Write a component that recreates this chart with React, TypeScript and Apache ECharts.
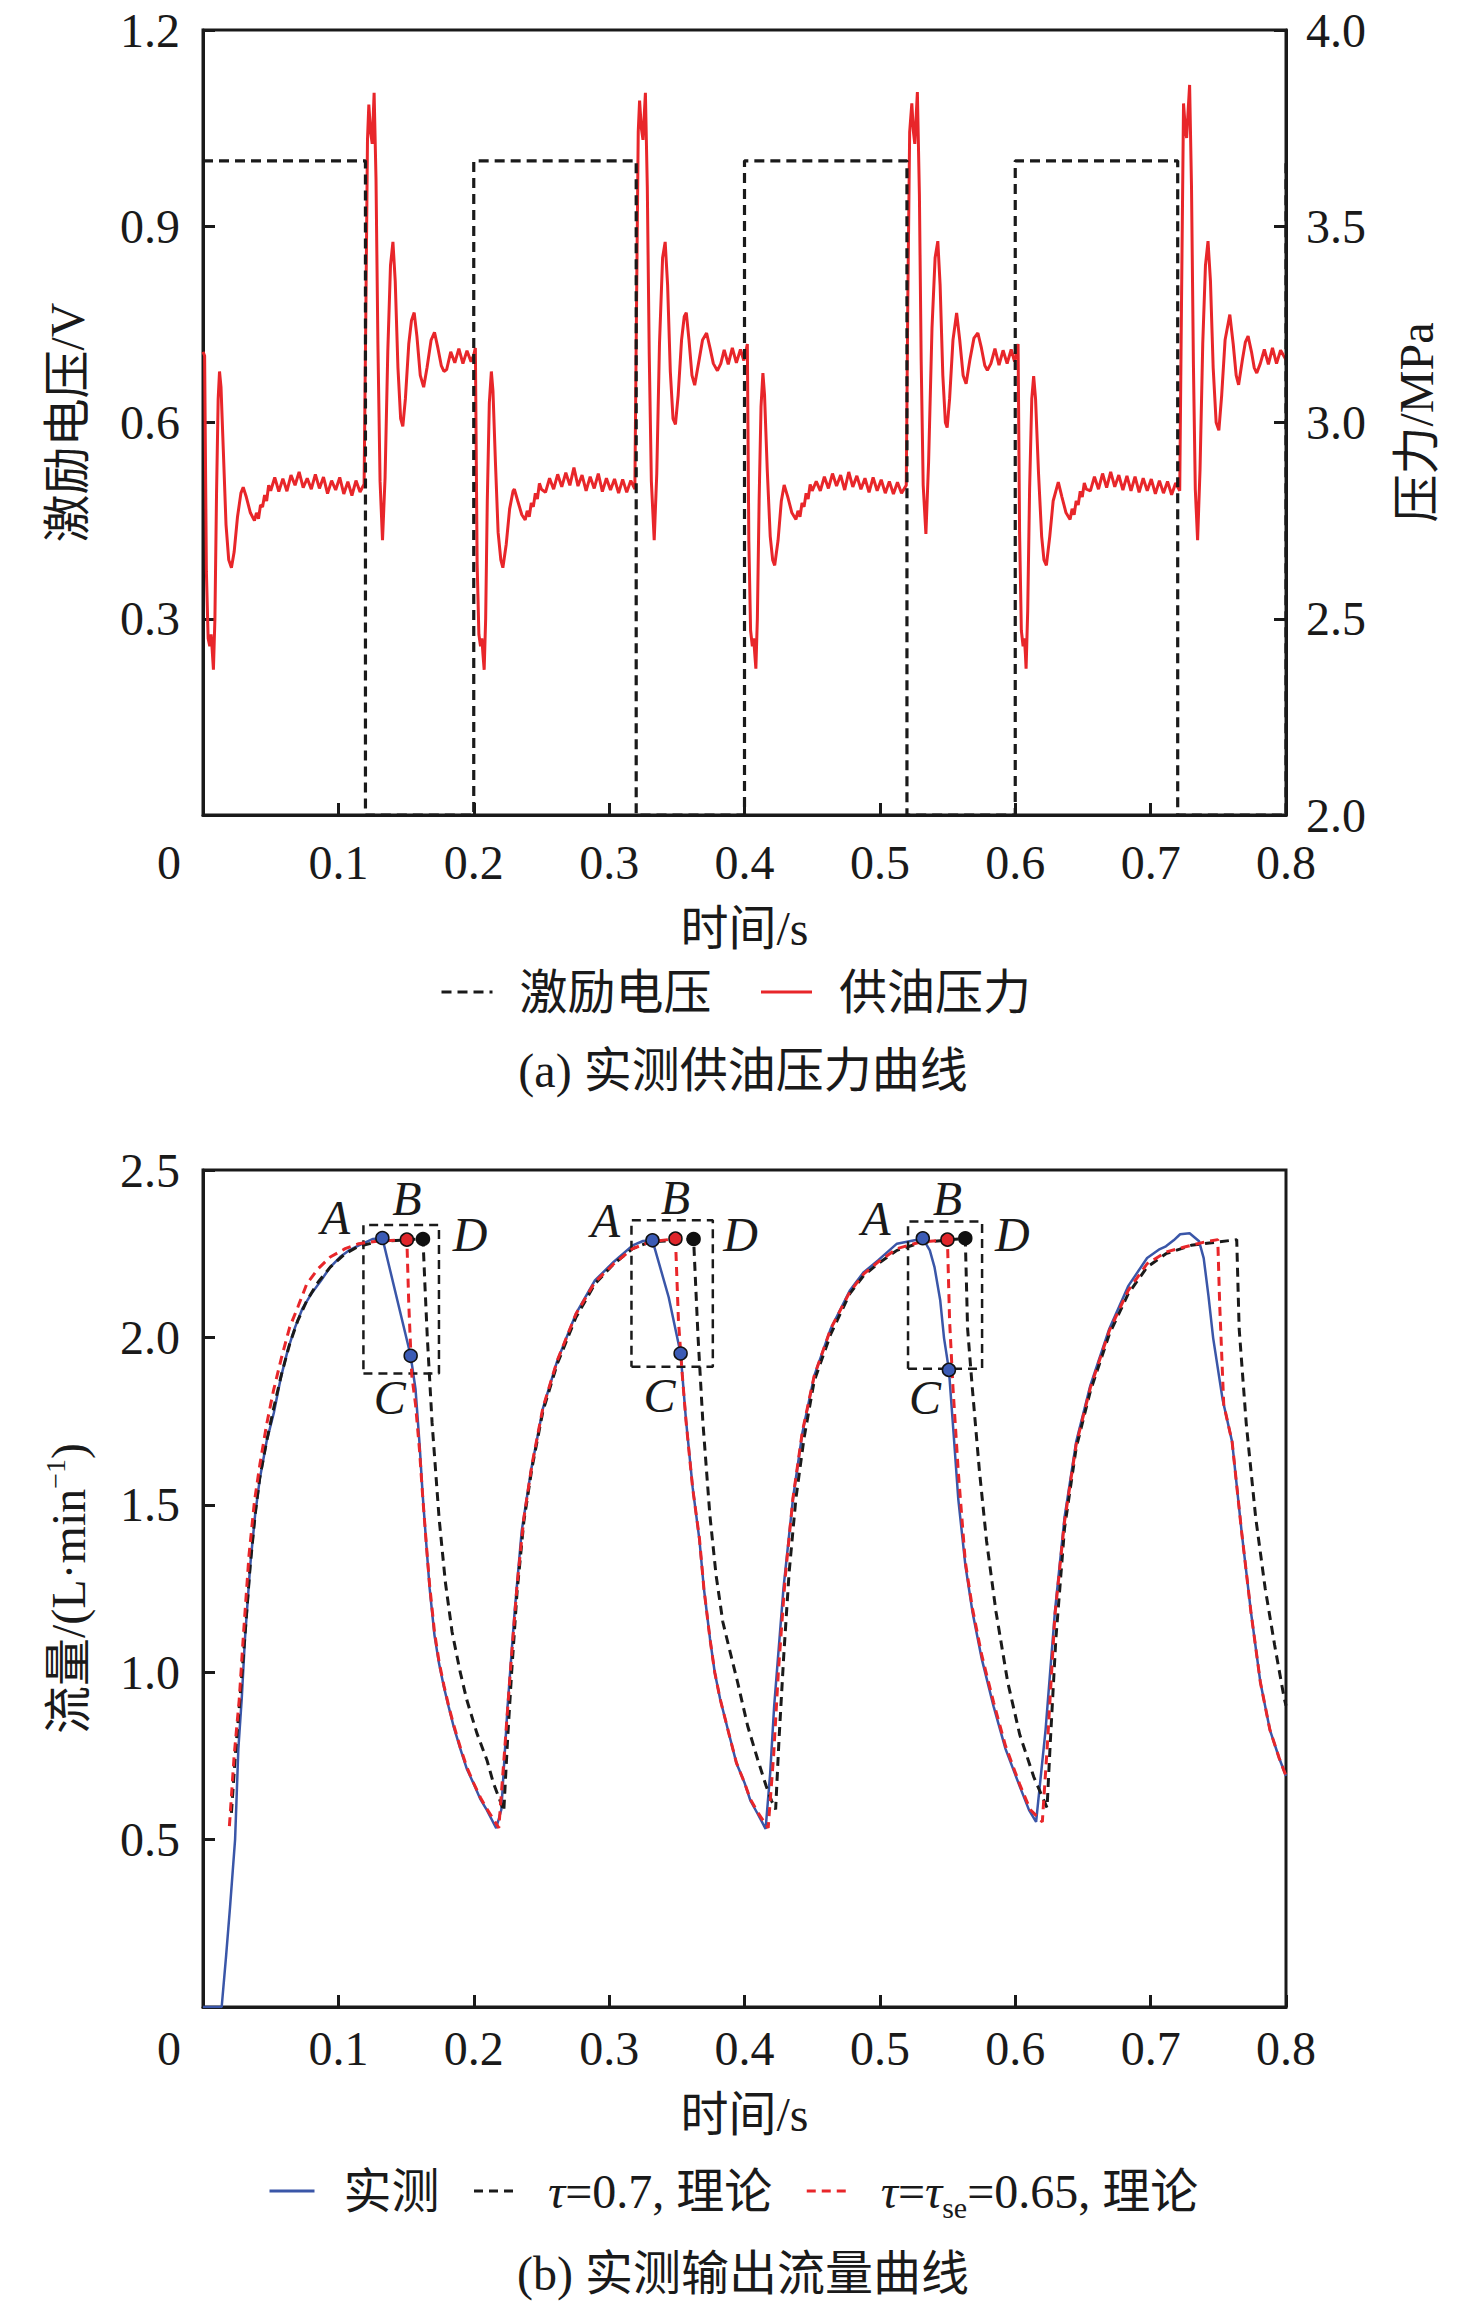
import React, { useEffect, useRef } from "react";
import * as echarts from "echarts";

const FONT = "'Liberation Serif', 'Noto Sans CJK SC', serif";
const INK = "#1a1a1a";
const RED = "#e8262a";
const BLUE = "#3a56a8";

const topLegendNames = ["激励电压", "供油压力"];
const bottomLegendNames = ["实测", "τ=0.7, 理论", "τ=τse=0.65, 理论"];
const captionA = "(a) 实测供油压力曲线";
const captionB = "(b) 实测输出流量曲线";
const originLabel = "0";

// excitation voltage (V), left axis of chart (a)
const voltage = [
  [0, 1], [0.12, 1], [0.12, 0], [0.2, 0], [0.2, 1], [0.32, 1], [0.32, 0], [0.4, 0], [0.4, 1],
  [0.52, 1], [0.52, 0], [0.6, 0], [0.6, 1], [0.72, 1], [0.72, 0], [0.8, 0], [0.8, 1],
];

// supply pressure (MPa), right axis of chart (a)
const pressure = [
  [0.000, 3.18], [0.0012, 3.17], [0.0025, 2.62], [0.0038, 2.45], [0.0050, 2.43], [0.0060, 2.46], [0.0068, 2.42], [0.0077, 2.37], [0.0088, 2.50], [0.0100, 2.82], [0.0112, 3.06], [0.0122, 3.13], [0.0133, 3.09], [0.0150, 2.93], [0.0170, 2.74], [0.0190, 2.65], [0.0210, 2.63], [0.0230, 2.67], [0.0255, 2.76], [0.0280, 2.82], [0.0297, 2.835], [0.0320, 2.81], [0.0350, 2.77], [0.0380, 2.75], [0.0395, 2.77], [0.0410, 2.755], [0.0425, 2.79], [0.0440, 2.785], [0.0455, 2.815], [0.0470, 2.80], [0.0485, 2.84], [0.0500, 2.826],
  [0.0530, 2.86], [0.0560, 2.824], [0.0590, 2.857], [0.0620, 2.825], [0.0650, 2.866], [0.0680, 2.84], [0.0710, 2.874], [0.0740, 2.834], [0.0770, 2.858], [0.0800, 2.83], [0.0830, 2.868], [0.0860, 2.832], [0.0890, 2.861], [0.0920, 2.819], [0.0950, 2.852], [0.0980, 2.828], [0.1010, 2.86], [0.1040, 2.818], [0.1070, 2.849], [0.1100, 2.814], [0.1130, 2.852], [0.1160, 2.823], [0.1190, 2.843],
  [0.1202, 3.25], [0.1215, 3.72], [0.1225, 3.81], [0.1238, 3.74], [0.1250, 3.71], [0.1264, 3.84], [0.1278, 3.62], [0.1292, 3.20], [0.1308, 2.85], [0.1326, 2.70], [0.1345, 2.86], [0.1365, 3.18], [0.1385, 3.40], [0.1403, 3.46], [0.1420, 3.36], [0.1440, 3.14], [0.1460, 3.01], [0.1476, 2.99], [0.1495, 3.06], [0.1520, 3.20], [0.1540, 3.26], [0.1560, 3.28], [0.1580, 3.22], [0.1605, 3.12], [0.1630, 3.09], [0.1655, 3.14], [0.1685, 3.21], [0.1710, 3.23], [0.1735, 3.19], [0.1760, 3.145], [0.1780, 3.13], [0.1800, 3.135], [0.1830, 3.18], [0.1860, 3.152], [0.1890, 3.188], [0.1920, 3.15], [0.1950, 3.183], [0.1980, 3.155], [0.2000, 3.172],
  [0.2012, 3.19], [0.2025, 2.64], [0.2038, 2.46], [0.2050, 2.43], [0.2060, 2.45], [0.2068, 2.41], [0.2077, 2.37], [0.2088, 2.50], [0.2100, 2.80], [0.2115, 3.05], [0.2130, 3.13], [0.2142, 3.08], [0.2160, 2.90], [0.2180, 2.72], [0.2200, 2.65], [0.2215, 2.63], [0.2240, 2.69], [0.2265, 2.78], [0.2290, 2.825], [0.2300, 2.83], [0.2325, 2.80], [0.2355, 2.765], [0.2380, 2.752], [0.2395, 2.775], [0.2410, 2.76], [0.2425, 2.795], [0.2440, 2.785], [0.2455, 2.82], [0.2470, 2.805], [0.2485, 2.845], [0.2500, 2.83],
  [0.2530, 2.822], [0.2560, 2.858], [0.2590, 2.83], [0.2620, 2.868], [0.2650, 2.836], [0.2680, 2.872], [0.2710, 2.84], [0.2740, 2.885], [0.2770, 2.838], [0.2800, 2.866], [0.2830, 2.826], [0.2860, 2.862], [0.2890, 2.832], [0.2920, 2.87], [0.2950, 2.824], [0.2980, 2.858], [0.3010, 2.828], [0.3040, 2.856], [0.3070, 2.82], [0.3100, 2.855], [0.3130, 2.822], [0.3160, 2.852], [0.3190, 2.83],
  [0.3202, 3.28], [0.3215, 3.74], [0.3225, 3.82], [0.3238, 3.75], [0.3250, 3.72], [0.3268, 3.84], [0.3282, 3.60], [0.3296, 3.18], [0.3312, 2.85], [0.3333, 2.70], [0.3352, 2.87], [0.3372, 3.20], [0.3395, 3.42], [0.3414, 3.46], [0.3432, 3.35], [0.3452, 3.13], [0.3472, 3.01], [0.3490, 2.995], [0.3510, 3.07], [0.3535, 3.21], [0.3555, 3.27], [0.3570, 3.28], [0.3590, 3.21], [0.3612, 3.12], [0.3632, 3.095], [0.3660, 3.15], [0.3690, 3.21], [0.3720, 3.228], [0.3745, 3.19], [0.3770, 3.15], [0.3800, 3.132], [0.3825, 3.15], [0.3850, 3.185], [0.3880, 3.148], [0.3910, 3.19], [0.3940, 3.152], [0.3970, 3.186], [0.3995, 3.158],
  [0.4010, 3.18], [0.4021, 3.20], [0.4032, 2.70], [0.4045, 2.47], [0.4058, 2.43], [0.4068, 2.45], [0.4076, 2.41], [0.4084, 2.373], [0.4095, 2.50], [0.4108, 2.80], [0.4122, 3.04], [0.4136, 3.126], [0.4148, 3.07], [0.4168, 2.88], [0.4190, 2.71], [0.4208, 2.65], [0.4223, 2.636], [0.4248, 2.70], [0.4272, 2.80], [0.4293, 2.841], [0.4320, 2.81], [0.4350, 2.77], [0.4380, 2.753], [0.4395, 2.775], [0.4410, 2.76], [0.4425, 2.795], [0.4440, 2.785], [0.4455, 2.82], [0.4470, 2.805], [0.4485, 2.842], [0.4500, 2.826],
  [0.4530, 2.85], [0.4560, 2.826], [0.4590, 2.862], [0.4620, 2.832], [0.4650, 2.87], [0.4680, 2.838], [0.4710, 2.866], [0.4740, 2.828], [0.4770, 2.874], [0.4800, 2.836], [0.4830, 2.864], [0.4860, 2.83], [0.4890, 2.858], [0.4920, 2.822], [0.4950, 2.86], [0.4980, 2.826], [0.5010, 2.854], [0.5040, 2.82], [0.5070, 2.85], [0.5100, 2.818], [0.5130, 2.848], [0.5160, 2.82], [0.5195, 2.84],
  [0.5206, 3.30], [0.5220, 3.74], [0.5236, 3.813], [0.5248, 3.74], [0.5258, 3.71], [0.5277, 3.842], [0.5292, 3.58], [0.5305, 3.16], [0.5320, 2.84], [0.5340, 2.716], [0.5360, 2.90], [0.5385, 3.24], [0.5408, 3.42], [0.5428, 3.462], [0.5445, 3.35], [0.5465, 3.12], [0.5484, 3.00], [0.5497, 2.987], [0.5515, 3.06], [0.5540, 3.21], [0.5567, 3.279], [0.5590, 3.21], [0.5615, 3.12], [0.5637, 3.099], [0.5665, 3.16], [0.5695, 3.215], [0.5724, 3.228], [0.5750, 3.19], [0.5775, 3.145], [0.5794, 3.133], [0.5820, 3.15], [0.5850, 3.188], [0.5880, 3.146], [0.5910, 3.184], [0.5940, 3.15], [0.5970, 3.186], [0.5995, 3.155],
  [0.6010, 3.18], [0.6021, 3.20], [0.6032, 2.72], [0.6045, 2.47], [0.6058, 2.43], [0.6068, 2.45], [0.6075, 2.41], [0.6080, 2.373], [0.6092, 2.52], [0.6106, 2.83], [0.6122, 3.06], [0.6136, 3.118], [0.6150, 3.06], [0.6172, 2.87], [0.6195, 2.71], [0.6212, 2.65], [0.6230, 2.636], [0.6255, 2.71], [0.6280, 2.80], [0.6318, 2.848], [0.6345, 2.81], [0.6375, 2.77], [0.6405, 2.753], [0.6420, 2.78], [0.6435, 2.765], [0.6450, 2.80], [0.6465, 2.79], [0.6480, 2.825], [0.6495, 2.81], [0.6510, 2.846], [0.6525, 2.83],
  [0.6555, 2.826], [0.6585, 2.862], [0.6615, 2.83], [0.6645, 2.87], [0.6675, 2.834], [0.6705, 2.874], [0.6735, 2.836], [0.6765, 2.866], [0.6795, 2.828], [0.6825, 2.864], [0.6855, 2.826], [0.6885, 2.862], [0.6915, 2.822], [0.6945, 2.858], [0.6975, 2.826], [0.7005, 2.856], [0.7035, 2.818], [0.7065, 2.852], [0.7095, 2.82], [0.7125, 2.85], [0.7155, 2.816], [0.7185, 2.846], [0.7215, 2.826],
  [0.7228, 3.30], [0.7243, 3.813], [0.7256, 3.75], [0.7266, 3.725], [0.7278, 3.80], [0.7288, 3.86], [0.7302, 3.60], [0.7316, 3.15], [0.7330, 2.83], [0.7347, 2.70], [0.7365, 2.88], [0.7385, 3.20], [0.7405, 3.40], [0.7424, 3.462], [0.7442, 3.36], [0.7462, 3.14], [0.7484, 3.00], [0.7504, 2.98], [0.7525, 3.07], [0.7550, 3.21], [0.7585, 3.275], [0.7610, 3.20], [0.7632, 3.12], [0.7650, 3.096], [0.7678, 3.16], [0.7700, 3.205], [0.7720, 3.22], [0.7745, 3.18], [0.7765, 3.14], [0.7784, 3.126], [0.7810, 3.15], [0.7840, 3.186], [0.7870, 3.148], [0.7900, 3.19], [0.7930, 3.15], [0.7960, 3.184], [0.8000, 3.16],
];

// measured output flow (L/min), chart (b)
const measuredFlow = [
  [0, 0], [0.0138, 0], [0.0170, 0.15], [0.0200, 0.30], [0.0237, 0.50], [0.0261, 0.77], [0.0286, 0.92], [0.0310, 1.10], [0.0349, 1.32], [0.0385, 1.47], [0.0419, 1.576], [0.0470, 1.69], [0.0523, 1.774], [0.0575, 1.88], [0.0628, 1.965], [0.0680, 2.03], [0.0733, 2.085], [0.0800, 2.13], [0.0872, 2.17], [0.0940, 2.21], [0.1012, 2.24], [0.1080, 2.26], [0.1151, 2.275], [0.1256, 2.294], [0.1325, 2.297],
  [0.1534, 1.945], [0.1570, 1.845], [0.1600, 1.68], [0.1622, 1.534], [0.1650, 1.38], [0.1674, 1.251], [0.1710, 1.11], [0.1744, 1.025], [0.1780, 0.955], [0.1814, 0.898], [0.1850, 0.84], [0.1901, 0.771], [0.1950, 0.71], [0.1998, 0.668], [0.2050, 0.62], [0.2097, 0.588], [0.2166, 0.534],
  [0.2204, 0.59], [0.2250, 0.898], [0.2302, 1.181], [0.2354, 1.421], [0.2424, 1.605], [0.2511, 1.788], [0.2616, 1.929], [0.2755, 2.071], [0.2895, 2.17], [0.3035, 2.226], [0.3174, 2.275], [0.3250, 2.288], [0.3320, 2.290],
  [0.3440, 2.12], [0.3528, 1.952], [0.3568, 1.752], [0.3617, 1.552], [0.3667, 1.395], [0.3700, 1.25], [0.3745, 1.10], [0.3780, 1.00], [0.3820, 0.92], [0.3870, 0.84], [0.3940, 0.729], [0.4000, 0.67], [0.4044, 0.616], [0.4100, 0.575], [0.4156, 0.532],
  [0.4190, 0.70], [0.4219, 0.898], [0.4288, 1.251], [0.4358, 1.518], [0.4428, 1.716], [0.4515, 1.885], [0.4637, 2.026], [0.4777, 2.139], [0.4881, 2.195], [0.4986, 2.23], [0.5126, 2.28], [0.5265, 2.291], [0.5317, 2.296],
  [0.5369, 2.26], [0.5404, 2.209], [0.5446, 2.11], [0.5474, 1.998], [0.5510, 1.903], [0.5544, 1.716], [0.5579, 1.518], [0.5631, 1.321], [0.5684, 1.18], [0.5753, 1.039], [0.5840, 0.898], [0.5928, 0.771], [0.6033, 0.659], [0.6102, 0.588], [0.6154, 0.553],
  [0.6224, 0.828], [0.6293, 1.18], [0.6364, 1.462], [0.6450, 1.688], [0.6555, 1.857], [0.6695, 2.026], [0.6834, 2.153], [0.6974, 2.237], [0.7060, 2.262], [0.7113, 2.272], [0.7170, 2.29], [0.7218, 2.308], [0.7288, 2.311], [0.7358, 2.287], [0.7392, 2.237], [0.7427, 2.125], [0.7462, 1.998], [0.7532, 1.814], [0.7602, 1.688], [0.7672, 1.42], [0.7741, 1.18], [0.7811, 0.969], [0.7881, 0.828], [0.7950, 0.743], [0.8000, 0.69],
];

// theory, tau = 0.7
const theoryTau070 = [
  [0.0210, 0.58], [0.0240, 0.76], [0.0275, 0.93], [0.0310, 1.11], [0.0349, 1.32], [0.0385, 1.47], [0.0419, 1.58], [0.0470, 1.69], [0.0523, 1.79], [0.0580, 1.89], [0.0640, 1.98], [0.0700, 2.05], [0.0767, 2.11], [0.0850, 2.165], [0.0940, 2.21], [0.1050, 2.25], [0.1150, 2.272], [0.1300, 2.287], [0.1625, 2.294],
  [0.1640, 2.15], [0.1657, 2.00], [0.1692, 1.746], [0.1744, 1.46], [0.1790, 1.27], [0.1840, 1.12], [0.1900, 1.00], [0.1949, 0.917], [0.2023, 0.818], [0.2097, 0.738], [0.2146, 0.668], [0.2200, 0.61], [0.2222, 0.585],
  [0.2250, 0.80], [0.2280, 1.00], [0.2320, 1.24], [0.2370, 1.45], [0.2430, 1.61], [0.2511, 1.78], [0.2616, 1.92], [0.2755, 2.06], [0.2895, 2.16], [0.3035, 2.22], [0.3174, 2.265], [0.3300, 2.285], [0.3624, 2.294],
  [0.3640, 2.15], [0.3657, 2.00], [0.3692, 1.75], [0.3744, 1.47], [0.3790, 1.29], [0.3840, 1.15], [0.3900, 1.05], [0.3949, 0.97], [0.4023, 0.84], [0.4097, 0.74], [0.4160, 0.66], [0.4200, 0.616], [0.4230, 0.59],
  [0.4255, 0.80], [0.4290, 1.05], [0.4330, 1.30], [0.4380, 1.52], [0.4440, 1.70], [0.4515, 1.87], [0.4637, 2.01], [0.4777, 2.13], [0.4881, 2.185], [0.4986, 2.22], [0.5126, 2.26], [0.5300, 2.283], [0.5631, 2.296],
  [0.5648, 2.026], [0.5684, 1.843], [0.5735, 1.603], [0.5788, 1.392], [0.5858, 1.18], [0.5945, 0.969], [0.6033, 0.814], [0.6137, 0.687], [0.6235, 0.595],
  [0.6260, 0.80], [0.6300, 1.10], [0.6364, 1.43], [0.6450, 1.67], [0.6555, 1.84], [0.6695, 2.01], [0.6834, 2.13], [0.6974, 2.21], [0.7113, 2.25], [0.7300, 2.275], [0.7636, 2.292],
  [0.7654, 2.026], [0.7706, 1.744], [0.7776, 1.462], [0.7846, 1.251], [0.7916, 1.081], [0.7985, 0.926], [0.8000, 0.90],
];

// theory, tau = tau_se = 0.65
const theoryTau065 = [
  [0.0195, 0.54], [0.0230, 0.75], [0.0268, 0.92], [0.0300, 1.12], [0.0340, 1.35], [0.0380, 1.51], [0.0420, 1.62], [0.0470, 1.74], [0.0520, 1.84], [0.0580, 1.94], [0.0640, 2.03], [0.0700, 2.09], [0.0767, 2.16], [0.0850, 2.205], [0.0940, 2.24], [0.1050, 2.265], [0.1150, 2.28], [0.1300, 2.288], [0.1506, 2.292],
  [0.1520, 2.10], [0.1542, 1.887], [0.1570, 1.80], [0.1600, 1.66], [0.1622, 1.53], [0.1650, 1.38], [0.1674, 1.26], [0.1710, 1.12], [0.1744, 1.03], [0.1780, 0.96], [0.1814, 0.90], [0.1850, 0.845], [0.1901, 0.775], [0.1950, 0.715], [0.2000, 0.668], [0.2050, 0.625], [0.2100, 0.59], [0.2185, 0.535],
  [0.2225, 0.75], [0.2270, 1.00], [0.2320, 1.26], [0.2370, 1.46], [0.2430, 1.62], [0.2511, 1.79], [0.2616, 1.93], [0.2755, 2.07], [0.2895, 2.165], [0.3035, 2.22], [0.3174, 2.265], [0.3300, 2.285], [0.3490, 2.295],
  [0.3512, 2.05], [0.3540, 1.89], [0.3568, 1.75], [0.3617, 1.55], [0.3667, 1.40], [0.3700, 1.25], [0.3745, 1.10], [0.3780, 1.00], [0.3820, 0.92], [0.3870, 0.84], [0.3940, 0.73], [0.4000, 0.67], [0.4044, 0.62], [0.4100, 0.58], [0.4175, 0.535],
  [0.4215, 0.75], [0.4250, 1.00], [0.4300, 1.28], [0.4358, 1.52], [0.4428, 1.72], [0.4515, 1.885], [0.4637, 2.026], [0.4777, 2.135], [0.4881, 2.19], [0.4986, 2.225], [0.5126, 2.265], [0.5300, 2.285], [0.5499, 2.292],
  [0.5515, 2.05], [0.5540, 1.85], [0.5579, 1.60], [0.5631, 1.33], [0.5684, 1.19], [0.5753, 1.05], [0.5840, 0.91], [0.5928, 0.78], [0.6033, 0.665], [0.6110, 0.59], [0.6200, 0.553],
  [0.6240, 0.80], [0.6293, 1.17], [0.6364, 1.45], [0.6450, 1.68], [0.6555, 1.85], [0.6695, 2.02], [0.6834, 2.14], [0.6974, 2.22], [0.7113, 2.255], [0.7250, 2.27], [0.7400, 2.285], [0.7496, 2.292],
  [0.7510, 2.10], [0.7540, 1.80], [0.7602, 1.688], [0.7672, 1.42], [0.7741, 1.18], [0.7811, 0.969], [0.7881, 0.828], [0.7950, 0.743], [0.8000, 0.69],
];

// marked points A, B, C, D in the first three cycles
const pointA = [[0.1325, 2.297], [0.332, 2.290], [0.5317, 2.296]];
const pointB = [[0.1506, 2.292], [0.349, 2.295], [0.5499, 2.292]];
const pointC = [[0.1534, 1.945], [0.3528, 1.952], [0.5510, 1.903]];
const pointD = [[0.1625, 2.294], [0.3624, 2.294], [0.5631, 2.296]];

// dashed boxes around the points: time range and flow range
const boxT = [[0.1185, 0.1743], [0.3165, 0.3766], [0.5208, 0.5755]];
const boxQ = [[1.892, 2.336], [1.912, 2.350], [1.906, 2.346]];

const legendRich: Record<string, string> = {
  "激励电压": "{n|激励电压}",
  "供油压力": "{n|供油压力}",
  "实测": "{n|实测}",
  "τ=0.7, 理论": "{it|τ}{n|=0.7, 理论}",
  "τ=τse=0.65, 理论": "{it|τ}{n|=}{it|τ}{sub|se}{n|=0.65, 理论}",
};

function buildOption() {
  const txt = { fontFamily: FONT, fontSize: 48, color: INK };
  const axisLine = { show: true, onZero: false, lineStyle: { color: INK, width: 3 } };
  const axisTick = { show: true, inside: true, length: 12, lineStyle: { color: INK, width: 3 } };
  const hideZero = (v: number) => (Math.abs(v) < 1e-9 ? "" : v.toFixed(1));
  const rich = {
    n: { fontFamily: FONT, fontSize: 48, color: INK, lineHeight: 64 },
    it: { fontFamily: FONT, fontSize: 48, color: INK, fontStyle: "italic", lineHeight: 64 },
    sub: { fontFamily: FONT, fontSize: 30, color: INK, lineHeight: 30, padding: [32, 0, 0, 0] },
  };
  const hiddenSymbol = { color: "rgba(0,0,0,0)", borderColor: "rgba(0,0,0,0)", borderWidth: 0, opacity: 0 };

  const xCommon = {
    type: "value",
    min: 0,
    max: 0.8,
    interval: 0.1,
    axisLine,
    axisTick,
    splitLine: { show: false },
    name: "时间/s",
    nameLocation: "middle",
    nameTextStyle: txt,
  };

  const boxes = boxT.map((t, i) => ({
    type: "line",
    xAxisIndex: 1,
    yAxisIndex: 2,
    data: [
      [t[0], boxQ[i][0]], [t[1], boxQ[i][0]], [t[1], boxQ[i][1]], [t[0], boxQ[i][1]], [t[0], boxQ[i][0]],
    ],
    symbol: "none",
    silent: true,
    lineStyle: { color: INK, width: 2.5, type: [9, 6] },
    z: 3,
  }));

  const pts = (data: any[], color: string, letter: string, offset: number[]) => ({
    type: "scatter",
    xAxisIndex: 1,
    yAxisIndex: 2,
    data,
    symbol: "circle",
    symbolSize: 13,
    silent: true,
    itemStyle: { color, borderColor: "#111", borderWidth: 1.5, opacity: 1 },
    label: {
      show: true,
      formatter: letter,
      position: "inside",
      offset,
      fontFamily: FONT,
      fontSize: 48,
      fontStyle: "italic",
      color: INK,
      textBorderWidth: 0,
      textBorderColor: "transparent",
    },
    z: 6,
  });

  const pointCItems = pointC.map((p, i) =>
    i === 2 ? { value: p, label: { offset: [-24, 28] } } : { value: p }
  );

  return {
    animation: false,
    backgroundColor: "#ffffff",
    grid: [
      { left: 203, top: 30, width: 1083, height: 785, show: true, borderColor: INK, borderWidth: 3, containLabel: false, outerBoundsMode: "none" },
      { left: 203, top: 1170, width: 1083, height: 837, show: true, borderColor: INK, borderWidth: 3, containLabel: false, outerBoundsMode: "none" },
    ],
    xAxis: [
      { ...xCommon, gridIndex: 0, nameGap: 89, axisLabel: { ...txt, margin: 23, formatter: hideZero, showMinLabel: true, showMaxLabel: true } },
      { ...xCommon, gridIndex: 1, nameGap: 83, axisLabel: { ...txt, margin: 17, formatter: hideZero, showMinLabel: true, showMaxLabel: true } },
    ],
    yAxis: [
      {
        type: "value", gridIndex: 0, position: "left", min: 0, max: 1.2, interval: 0.3,
        axisLine, axisTick, splitLine: { show: false },
        axisLabel: { ...txt, margin: 23, formatter: hideZero, showMaxLabel: true },
        name: "激励电压/V", nameLocation: "middle", nameRotate: 90, nameGap: 112, nameTextStyle: txt,
      },
      {
        type: "value", gridIndex: 0, position: "right", min: 2, max: 4, interval: 0.5,
        axisLine, axisTick, splitLine: { show: false },
        axisLabel: { ...txt, margin: 20, formatter: (v: number) => v.toFixed(1), showMinLabel: true, showMaxLabel: true },
        name: "压力/MPa", nameLocation: "middle", nameRotate: 90, nameGap: 106, nameTextStyle: txt,
      },
      {
        type: "value", gridIndex: 1, position: "left", min: 0, max: 2.5, interval: 0.5,
        axisLine, axisTick, splitLine: { show: false },
        axisLabel: { ...txt, margin: 23, formatter: hideZero, showMaxLabel: true },
        name: "流量/(L·min{sup|−1})", nameLocation: "middle", nameRotate: 90, nameGap: 108,
        nameTextStyle: { ...txt, rich: { sup: { fontFamily: FONT, fontSize: 28, color: INK, padding: [0, 0, 26, 0] } } },
      },
    ],
    legend: [
      {
        data: topLegendNames, left: 440, top: 968, padding: 0, orient: "horizontal",
        itemWidth: 51, itemHeight: 20, itemGap: 48, selectedMode: false,
        lineStyle: { width: 3 },
        itemStyle: hiddenSymbol,
        formatter: (name: string) => legendRich[name],
        textStyle: { ...txt, padding: [0, 0, 0, 22], rich },
      },
      {
        data: bottomLegendNames, left: 268, top: 2160, padding: 0, orient: "horizontal",
        itemWidth: 45, itemHeight: 20, itemGap: 33, selectedMode: false,
        lineStyle: { width: 3 },
        itemStyle: hiddenSymbol,
        formatter: (name: string) => legendRich[name],
        textStyle: { ...txt, padding: [0, 0, 0, 24], rich },
      },
    ],
    graphic: [
      { type: "text", x: 169, y: 862, silent: true, style: { text: originLabel, fontFamily: FONT, fontSize: 48, fill: INK, align: "center", verticalAlign: "middle", textAlign: "center", textVerticalAlign: "middle" } },
      { type: "text", x: 169, y: 2048, silent: true, style: { text: originLabel, fontFamily: FONT, fontSize: 48, fill: INK, align: "center", verticalAlign: "middle", textAlign: "center", textVerticalAlign: "middle" } },
      { type: "text", x: 743, y: 1070, silent: true, style: { text: captionA, fontFamily: FONT, fontSize: 48, fill: INK, align: "center", verticalAlign: "middle", textAlign: "center", textVerticalAlign: "middle" } },
      { type: "text", x: 743, y: 2273, silent: true, style: { text: captionB, fontFamily: FONT, fontSize: 48, fill: INK, align: "center", verticalAlign: "middle", textAlign: "center", textVerticalAlign: "middle" } },
    ],
    series: [
      {
        name: topLegendNames[1], type: "line", xAxisIndex: 0, yAxisIndex: 1, data: pressure,
        symbol: "none", lineStyle: { color: RED, width: 3 }, itemStyle: { color: RED }, z: 2,
      },
      {
        name: topLegendNames[0], type: "line", xAxisIndex: 0, yAxisIndex: 0, data: voltage,
        symbol: "none", lineStyle: { color: INK, width: 3.2, type: [10, 6] }, itemStyle: { color: INK }, z: 3,
      },
      {
        name: bottomLegendNames[0], type: "line", xAxisIndex: 1, yAxisIndex: 2, data: measuredFlow,
        symbol: "none", lineStyle: { color: BLUE, width: 2.5 }, itemStyle: { color: BLUE }, z: 2,
      },
      {
        name: bottomLegendNames[1], type: "line", xAxisIndex: 1, yAxisIndex: 2, data: theoryTau070,
        symbol: "none", lineStyle: { color: INK, width: 3, type: [9, 6] }, itemStyle: { color: INK }, z: 3,
      },
      {
        name: bottomLegendNames[2], type: "line", xAxisIndex: 1, yAxisIndex: 2, data: theoryTau065,
        symbol: "none", lineStyle: { color: RED, width: 3, type: [9, 6] }, itemStyle: { color: RED }, z: 4,
      },
      ...boxes,
      pts(pointA, "#3b5bb5", "A", [-47, -20]),
      pts(pointB, "#e0262b", "B", [0, -41]),
      pts(pointCItems, "#3b5bb5", "C", [-21, 42]),
      pts(pointD, "#111111", "D", [47, -4]),
    ],
  };
}

export default function App() {
  const ref = useRef<HTMLDivElement>(null);
  useEffect(() => {
    if (!ref.current) return;
    const chart = echarts.init(ref.current, null, { renderer: "svg" });
    chart.setOption(buildOption() as any);
    return () => chart.dispose();
  }, []);
  return (
    <div
      ref={ref}
      style={{ position: "absolute", left: 0, top: 0, width: 1476, height: 2304, background: "#ffffff" }}
    />
  );
}
